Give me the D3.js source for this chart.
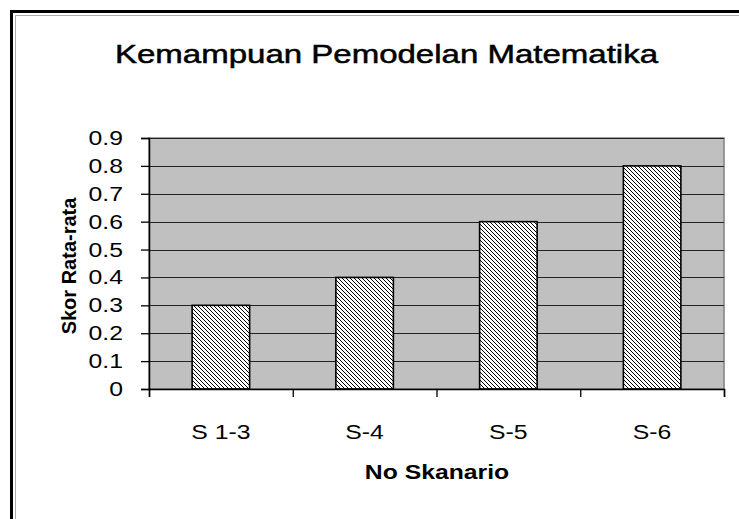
<!DOCTYPE html>
<html>
<head>
<meta charset="utf-8">
<script src="https://cdn.jsdelivr.net/npm/d3@7"></script>
<style>
  html, body { margin: 0; padding: 0; background: #fff; }
  svg { display: block; }
  text { font-family: Arial, "Liberation Sans", sans-serif; fill: #000; }
</style>
</head>
<body>
<script>
const categories = ["S 1-3", "S-4", "S-5", "S-6"];
const values = [0.3, 0.4, 0.6, 0.8];
const yTicks = [0, 0.1, 0.2, 0.3, 0.4, 0.5, 0.6, 0.7, 0.8, 0.9];
const yTickLabels = ["0", "0.1", "0.2", "0.3", "0.4", "0.5", "0.6", "0.7", "0.8", "0.9"];
const titleText = "Kemampuan Pemodelan Matematika";
const xTitle = "No Skanario";
const yTitle = "Skor Rata-rata";

const W = 739, H = 519;
const SX = 1.27; // horizontal stretch of text in the reference
const plot = { left: 149, right: 724, top: 138, bottom: 389 };

const svg = d3.select("body").append("svg").attr("width", W).attr("height", H);

// hatch pattern
const defs = svg.append("defs");
const pat = defs.append("pattern").attr("id", "hatch")
  .attr("patternUnits", "userSpaceOnUse").attr("width", 4).attr("height", 4);
pat.append("rect").attr("width", 4).attr("height", 4).attr("fill", "#fff");
pat.append("path").attr("d", "M-1,-1 L5,5 M-1,3 L1,5 M3,-1 L5,1")
  .attr("stroke", "#000").attr("stroke-width", 1.0);

// outer frame
svg.append("rect").attr("x", 11.5).attr("y", 11.5).attr("width", 800).attr("height", 600)
  .attr("fill", "none").attr("stroke", "#000").attr("stroke-width", 3);
svg.append("path").attr("d", `M15.5,${H + 5} L15.5,15.5 L${W + 5},15.5`)
  .attr("fill", "none").attr("stroke", "#aaa").attr("stroke-width", 1);

const x = d3.scaleBand().domain(categories).range([plot.left, plot.right]).paddingInner(0.6).paddingOuter(0.3);
const xCat = d3.scaleBand().domain(categories).range([plot.left, plot.right]);
const y = d3.scaleLinear().domain([0, 0.9]).range([plot.bottom, plot.top]);

function stretchedText(g, tx, ty, str, opts) {
  const sx = opts.sx || SX;
  const t = g.append("text")
    .attr("transform", `translate(${tx},${ty}) ${opts.rotate ? "rotate(-90) scale(1," + sx + ")" : "scale(" + sx + ",1)"}`)
    .attr("text-anchor", opts.anchor || "middle")
    .attr("font-size", opts.size)
    .attr("font-weight", opts.weight || "normal")
    .text(str);
  if (opts.heavy) t.attr("stroke", "#000").attr("stroke-width", opts.heavy);
  return t;
}

// plot background
svg.append("rect").attr("x", plot.left).attr("y", plot.top)
  .attr("width", plot.right - plot.left).attr("height", plot.bottom - plot.top)
  .attr("fill", "#c0c0c0").attr("stroke", "#808080").attr("stroke-width", 1.5);

// gridlines
svg.append("g").selectAll("line").data(yTicks.slice(1)).join("line")
  .attr("x1", plot.left).attr("x2", plot.right)
  .attr("y1", d => Math.round(y(d)) + 0.5).attr("y2", d => Math.round(y(d)) + 0.5)
  .attr("stroke", "#222").attr("stroke-width", 1.2);

// bars
svg.append("g").selectAll("rect").data(values).join("rect")
  .attr("x", (d, i) => x(categories[i]))
  .attr("y", d => y(d))
  .attr("width", x.bandwidth())
  .attr("height", d => y(0) - y(d))
  .attr("fill", "url(#hatch)")
  .attr("stroke", "#000").attr("stroke-width", 1.6);

// y axis
const yAxis = d3.axisLeft(y).tickValues(yTicks).tickSize(8).tickFormat("");
const gy = svg.append("g").attr("transform", `translate(${plot.left},0)`).call(yAxis);
gy.select(".domain").attr("stroke", "#000").attr("stroke-width", 1.5);
gy.selectAll(".tick line").attr("stroke", "#000").attr("stroke-width", 1.3);
const gyl = svg.append("g");
yTicks.forEach((v, i) => stretchedText(gyl, 123, y(v) + 7, yTickLabels[i], { size: 19.5, anchor: "end" }));

// x axis with ticks at category boundaries
const xb = d3.scaleLinear().domain([0, categories.length]).range([plot.left, plot.right]);
const xAxis = d3.axisBottom(xb).tickValues(d3.range(categories.length + 1)).tickSize(8).tickFormat("");
const gx = svg.append("g").attr("transform", `translate(0,${plot.bottom})`).call(xAxis);
gx.select(".domain").attr("stroke", "#000").attr("stroke-width", 1.5);
gx.selectAll(".tick line").attr("stroke", "#000").attr("stroke-width", 1.3);
const gxl = svg.append("g");
categories.forEach(c => stretchedText(gxl, xCat(c) + xCat.bandwidth() / 2, 439, c, { size: 19.5 }));

// titles
stretchedText(svg, 386.5, 63, titleText, { size: 26, heavy: 0.5 });
stretchedText(svg, 437, 479, xTitle, { size: 19.5, weight: "bold" });
stretchedText(svg, 76, 266, yTitle, { size: 20, weight: "bold", rotate: true, sx: 1.0 });
</script>
</body>
</html>
